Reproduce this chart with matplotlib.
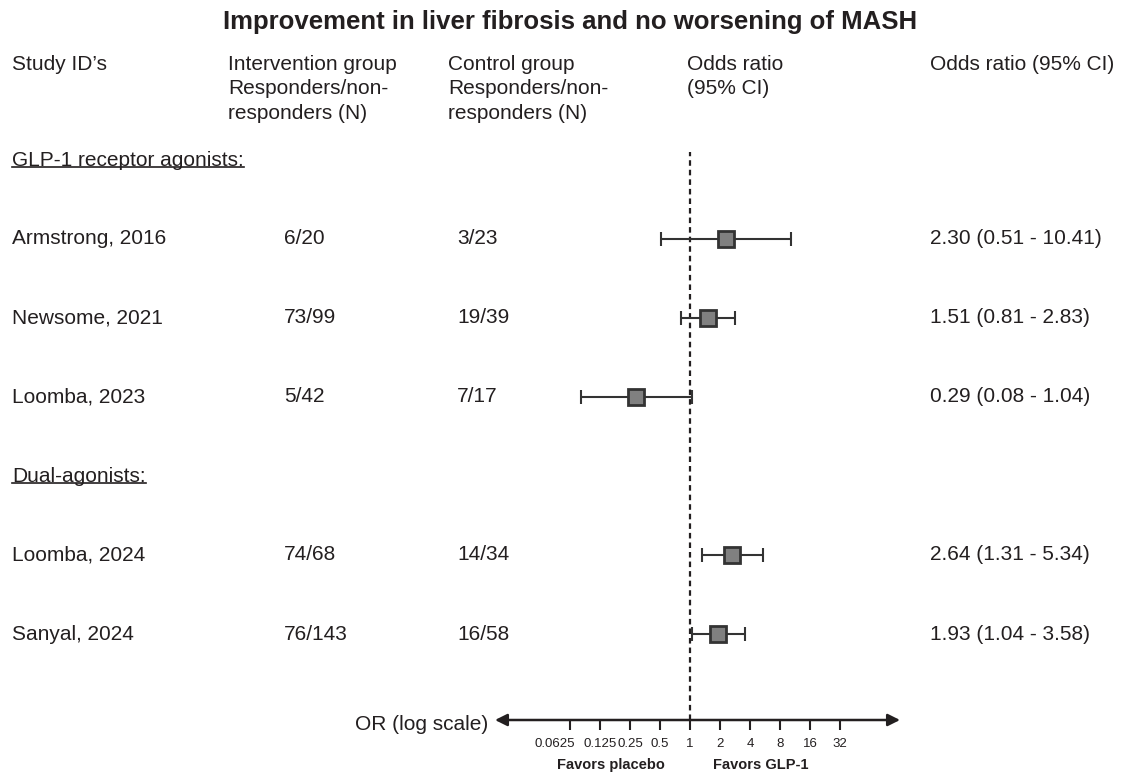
import numpy as np
import matplotlib.pyplot as plt
import matplotlib.transforms as mtransforms
from matplotlib.lines import Line2D

plt.rcParams['font.family'] = ['Liberation Sans', 'DejaVu Sans']

studies = ["Armstrong, 2016", "Newsome, 2021", "Loomba, 2023", "Loomba, 2024", "Sanyal, 2024"]
intervention = ["6/20", "73/99", "5/42", "74/68", "76/143"]
control = ["3/23", "19/39", "7/17", "14/34", "16/58"]
odds = [2.30, 1.51, 0.29, 2.64, 1.93]
ci_low = [0.51, 0.81, 0.08, 1.31, 1.04]
ci_high = [10.41, 2.83, 1.04, 5.34, 3.58]
rows = [1, 2, 3, 5, 6]
group_names = ["GLP-1 receptor agonists:", "Dual-agonists:"]
group_rows = [0, 4]
ticks = [0.0625, 0.125, 0.25, 0.5, 1, 2, 4, 8, 16, 32]
tick_labels = ["0.0625", "0.125", "0.25", "0.5", "1", "2", "4", "8", "16", "32"]

W, H = 1122, 773
txt = '#231f20'
fig = plt.figure(figsize=(W / 100, H / 100), dpi=100)


def fx(px):
    return px / W


def fy(py):
    return 1 - py / H


# forest axes: x in log2, y in row units
left, right = 495, 900
top, bottom = 152, 720
row_h = 79.0
y_top = -(160 - top) / row_h
y_bot = 6 + (bottom - 634) / row_h
ax = fig.add_axes([fx(left), fy(bottom), (right - left) / W, (bottom - top) / H])
ax.set_xscale('log', base=2)
ax.set_xlim(2 ** -6.5, 2 ** 7)
ax.set_ylim(y_bot, y_top)
for s in ax.spines.values():
    s.set_visible(False)
ax.set_yticks([])
ax.patch.set_alpha(0)


def row_px(r):
    return top + (r - y_top) * row_h


ax.axvline(1, color=txt, ls=(0, (2.5, 1.8)), lw=1.6, zorder=1)

for r, o, lo, hi in zip(rows, odds, ci_low, ci_high):
    ax.errorbar(o, r, xerr=[[o - lo], [hi - o]], fmt='none', ecolor='#333333',
                elinewidth=1.5, capsize=5, capthick=1.5, zorder=2)
    ax.plot(o, r, marker='s', ms=12, mfc='#808080', mec='#333333', mew=2, zorder=3)

ax.set_xticks(ticks)
ax.set_xticklabels(tick_labels, fontsize=9.5, color=txt)
ax.minorticks_off()
ax.tick_params(axis='x', length=7, width=1.5, color=txt, pad=6)
first = ax.get_xticklabels()[0]
first.set_transform(first.get_transform() + mtransforms.ScaledTranslation(-0.15, 0, fig.dpi_scale_trans))
ax.annotate('', xy=(1, 0), xytext=(0, 0), xycoords='axes fraction',
            arrowprops=dict(arrowstyle='<|-|>', color=txt, lw=1.8,
                            mutation_scale=18, shrinkA=0, shrinkB=0))

fig.text(0.508, fy(22), "Improvement in liver fibrosis and no worsening of MASH",
         ha='center', va='center', fontsize=18.5, fontweight='bold', color=txt)

fs = 15
fig.text(fx(12), fy(55), "Study ID\u2019s", ha='left', va='top', fontsize=fs, color=txt)
fig.text(fx(228), fy(55), "Intervention group\nResponders/non-\nresponders (N)",
         ha='left', va='top', fontsize=fs, color=txt, linespacing=1.36)
fig.text(fx(448), fy(55), "Control group\nResponders/non-\nresponders (N)",
         ha='left', va='top', fontsize=fs, color=txt, linespacing=1.36)
fig.text(fx(687), fy(55), "Odds ratio\n(95% CI)",
         ha='left', va='top', fontsize=fs, color=txt, linespacing=1.36)
fig.text(fx(930), fy(55), "Odds ratio (95% CI)", ha='left', va='top', fontsize=fs, color=txt)

for name, r, iv, cv, o, lo, hi in zip(studies, rows, intervention, control, odds, ci_low, ci_high):
    y = fy(row_px(r))
    fig.text(fx(12), y, name, ha='left', va='center', fontsize=fs, color=txt)
    fig.text(fx(284), y, iv, ha='left', va='center', fontsize=fs, color=txt)
    fig.text(fx(457), y, cv, ha='left', va='center', fontsize=fs, color=txt)
    fig.text(fx(930), y, f"{o:.2f} ({lo:.2f} - {hi:.2f})", ha='left', va='center',
             fontsize=fs, color=txt)

group_texts = []
for g, r in zip(group_names, group_rows):
    t = fig.text(fx(12), fy(row_px(r)), g, ha='left', va='center', fontsize=fs, color=txt)
    group_texts.append(t)

fig.text(fx(488), fy(724), "OR (log scale)", ha='right', va='center', fontsize=fs, color=txt)
fig.text(fx(611), fy(765), "Favors placebo", ha='center', va='center', fontsize=10.5,
         fontweight='bold', color=txt)
fig.text(fx(761), fy(765), "Favors GLP-1", ha='center', va='center', fontsize=10.5,
         fontweight='bold', color=txt)

# underline group headers
fig.canvas.draw()
renderer = fig.canvas.get_renderer()
for t in group_texts:
    bb = t.get_window_extent(renderer).transformed(fig.transFigure.inverted())
    fig.add_artist(Line2D([bb.x0, bb.x1], [bb.y0 + 0.003, bb.y0 + 0.003],
                          transform=fig.transFigure, color=txt, lw=1.2))

fig.savefig('out.png', dpi=100)
